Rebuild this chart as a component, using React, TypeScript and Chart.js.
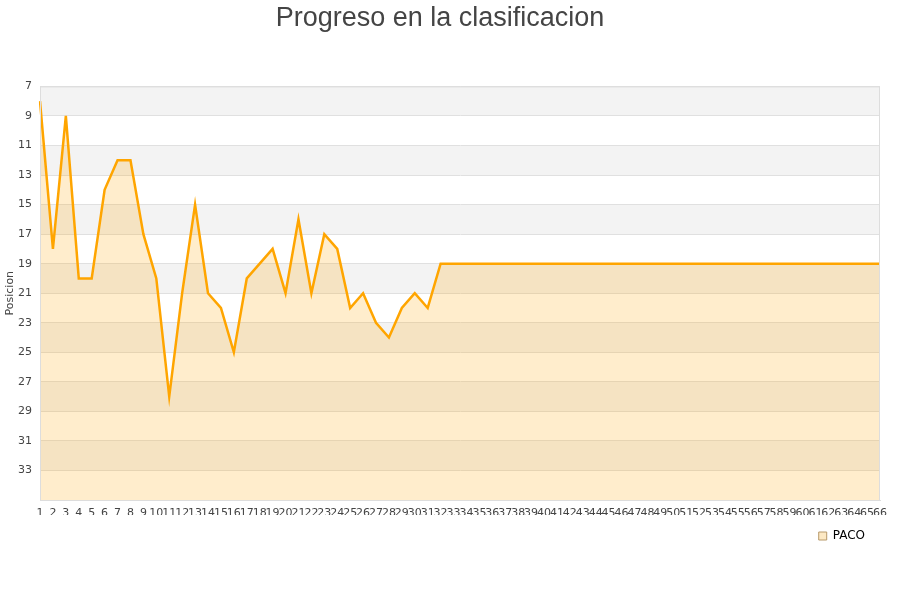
import React, { useEffect, useRef } from "react";
import { Chart, registerables } from "chart.js";

Chart.register(...registerables);

const jornadas: string[] = [
  "1", "2", "3", "4", "5", "6", "7", "8", "9", "10", "11", "12", "13", "14", "15", "16", "17", "18", "19", "20", "21", "22",
  "23", "24", "25", "26", "27", "28", "29", "30", "31", "32", "33", "34", "35", "36", "37", "38", "39", "40", "41", "42", "43", "44",
  "45", "46", "47", "48", "49", "50", "51", "52", "53", "54", "55", "56", "57", "58", "59", "60", "61", "62", "63", "64", "65", "66",
];

const posicionesPaco: number[] = [
  8, 18, 9, 20, 20, 14, 12, 12, 17, 20, 28, 21, 15, 21, 22, 25, 20, 19, 18, 21, 16, 21,
  17, 18, 22, 21, 23, 24, 22, 21, 22, 19, 19, 19, 19, 19, 19, 19, 19, 19, 19, 19, 19, 19,
  19, 19, 19, 19, 19, 19, 19, 19, 19, 19, 19, 19, 19, 19, 19, 19, 19, 19, 19, 19, 19, 19,
];

const yMin = 7;
const yMax = 35;
const yStep = 2;

const bandsPlugin = {
  id: "bands",
  beforeDraw(chart: any) {
    const { ctx, chartArea } = chart;
    const y = chart.scales.y;
    ctx.save();
    let k = 0;
    for (let v = yMin; v < yMax; v += yStep) {
      const y1 = y.getPixelForValue(v);
      const y2 = y.getPixelForValue(v + yStep);
      ctx.fillStyle = k % 2 === 0 ? "#f3f3f3" : "#ffffff";
      ctx.fillRect(chartArea.left, Math.min(y1, y2), chartArea.right - chartArea.left, Math.abs(y2 - y1));
      k++;
    }
    ctx.restore();
  },
  afterDraw(chart: any) {
    const { ctx, chartArea } = chart;
    ctx.save();
    ctx.strokeStyle = "#dddddd";
    ctx.lineWidth = 1;
    ctx.strokeRect(chartArea.left + 0.5, chartArea.top + 0.5, chartArea.right - chartArea.left - 1, chartArea.bottom - chartArea.top);
    ctx.restore();
  },
};

export default function App() {
  const ref = useRef<HTMLCanvasElement | null>(null);

  useEffect(() => {
    if (!ref.current) return;
    const chart = new Chart(ref.current, {
      type: "line",
      data: {
        labels: jornadas,
        datasets: [
          {
            label: "PACO",
            data: posicionesPaco,
            borderColor: "#ffa500",
            backgroundColor: "rgba(255,165,0,0.2)",
            borderWidth: 2.5,
            pointRadius: 0,
            tension: 0,
            fill: { value: yMax },
          },
        ],
      },
      options: {
        responsive: false,
        animation: false,
        layout: { padding: { left: 0, right: 20, top: 0, bottom: 48 } },
        plugins: {
          title: {
            display: true,
            text: "Progreso en la clasificacion",
            color: "#444444",
            font: { family: "'Liberation Sans', Arial, sans-serif", size: 27, weight: "normal" },
            padding: { top: 2, bottom: 52 },
          },
          legend: {
            display: true,
            position: "bottom",
            align: "end",
            labels: {
              boxWidth: 8,
              boxHeight: 8,
              padding: 15,
              color: "#222222",
              font: { family: "'DejaVu Sans', sans-serif", size: 12 },
              generateLabels: () => [
                {
                  text: "PACO",
                  fillStyle: "#fde9c4",
                  strokeStyle: "#b89a6a",
                  lineWidth: 1,
                  hidden: false,
                  datasetIndex: 0,
                },
              ],
            },
          },
          tooltip: { enabled: false },
        },
        scales: {
          x: {
            type: "category",
            offset: false,
            grid: { display: false, drawTicks: false },
            border: { display: true, color: "#dddddd" },
            ticks: {
              autoSkip: false,
              maxRotation: 0,
              minRotation: 0,
              padding: 7,
              color: "#444444",
              font: { family: "'DejaVu Sans', sans-serif", size: 11 },
            },
            afterFit: (scale: any) => {
              scale.height = 15;
            },
          },
          y: {
            reverse: true,
            min: yMin,
            max: yMax,
            grid: { color: "#e0e0e0", drawTicks: false },
            border: { display: true, color: "#dddddd" },
            ticks: {
              stepSize: yStep,
              padding: 8,
              color: "#444444",
              font: { family: "'DejaVu Sans', sans-serif", size: 11 },
              callback: (v: any) => (Number(v) === yMax ? "" : String(v)),
            },
            title: {
              display: true,
              text: "Posicion",
              color: "#444444",
              font: { family: "'DejaVu Sans', sans-serif", size: 11 },
              padding: { top: 4, bottom: 0 },
            },
            afterFit: (scale: any) => {
              scale.width = 40;
            },
          },
        },
      },
      plugins: [bandsPlugin],
    });
    return () => chart.destroy();
  }, []);

  return (
    <div style={{ position: "absolute", left: 0, top: 0, width: 900, height: 600, background: "#ffffff" }}>
      <canvas ref={ref} width={900} height={600} style={{ display: "block" }} />
    </div>
  );
}
